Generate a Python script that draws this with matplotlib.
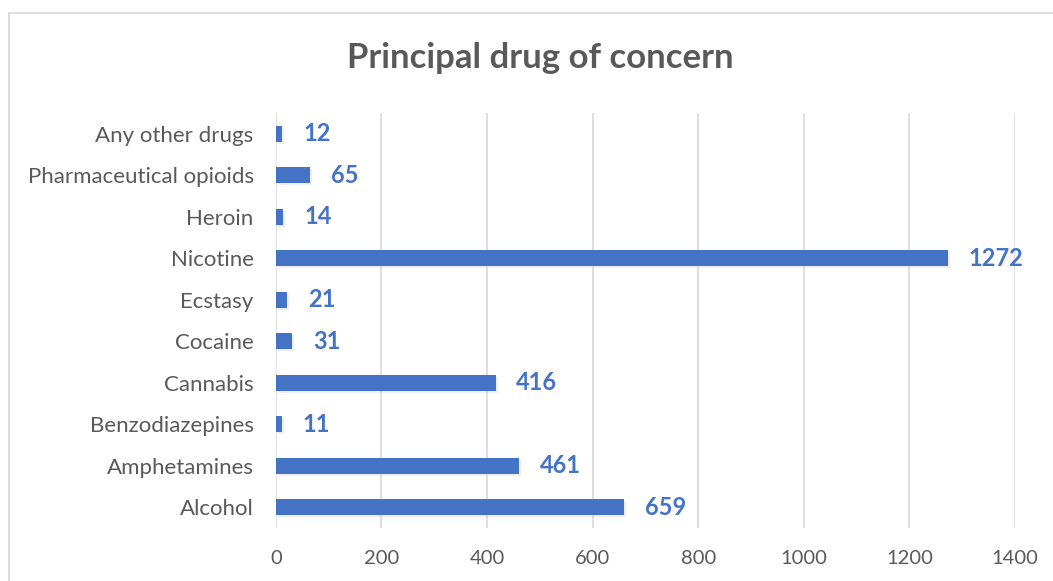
import matplotlib.pyplot as plt
from matplotlib.lines import Line2D
import matplotlib.patheffects as pe

categories = ['Alcohol', 'Amphetamines', 'Benzodiazepines', 'Cannabis', 'Cocaine',
              'Ecstasy', 'Nicotine', 'Heroin', 'Pharmaceutical opioids', 'Any other drugs']
counts = [659, 461, 11, 416, 31, 21, 1272, 14, 65, 12]
xticks = [0, 200, 400, 600, 800, 1000, 1200, 1400]

blue = '#4472C4'
grey = '#595959'
plt.rcParams['font.family'] = ['Lato', 'DejaVu Sans']

fig = plt.figure(figsize=(10.53, 5.81), dpi=100)
ax = fig.add_axes([0.262, 0.0912, 0.702, 0.7143])

ypos = range(len(categories))
bars = ax.barh(ypos, counts, height=0.39, color=blue, zorder=3)
for b in bars:
    b.set_path_effects([pe.SimplePatchShadow(offset=(1.5, -1.5), shadow_rgbFace='#d0d0d0', alpha=0.35), pe.Normal()])

for y, v in zip(ypos, counts):
    ax.annotate(str(v), (v, y), xytext=(15, 0), textcoords='offset points',
                va='center', ha='left', color=blue, fontsize=17, fontweight='bold')

ax.set_xlim(0, 1400)
ax.set_ylim(-0.5, len(categories) - 0.5)
ax.set_xticks(xticks)
ax.set_yticks(list(ypos))
ax.set_yticklabels(categories)
ax.grid(axis='x', color='#D9D9D9', linewidth=1.2, zorder=0)
ax.tick_params(axis='x', length=0, labelsize=14.5, colors=grey, pad=16)
ax.tick_params(axis='y', length=0, labelsize=16, colors=grey, pad=16)
for s in ax.spines.values():
    s.set_visible(False)

fig.text(0.513, 0.9, 'Principal drug of concern', ha='center', va='center',
         fontsize=25, fontweight='bold', color=grey)

# chart area border (top and left edges visible)
fig.add_artist(Line2D([8.5 / 1053, 1], [1 - 13 / 581, 1 - 13 / 581], color='#D9D9D9', linewidth=1.2))
fig.add_artist(Line2D([8.5 / 1053, 8.5 / 1053], [0, 1 - 13 / 581], color='#D9D9D9', linewidth=1.2))

fig.savefig('out.png', dpi=100)
